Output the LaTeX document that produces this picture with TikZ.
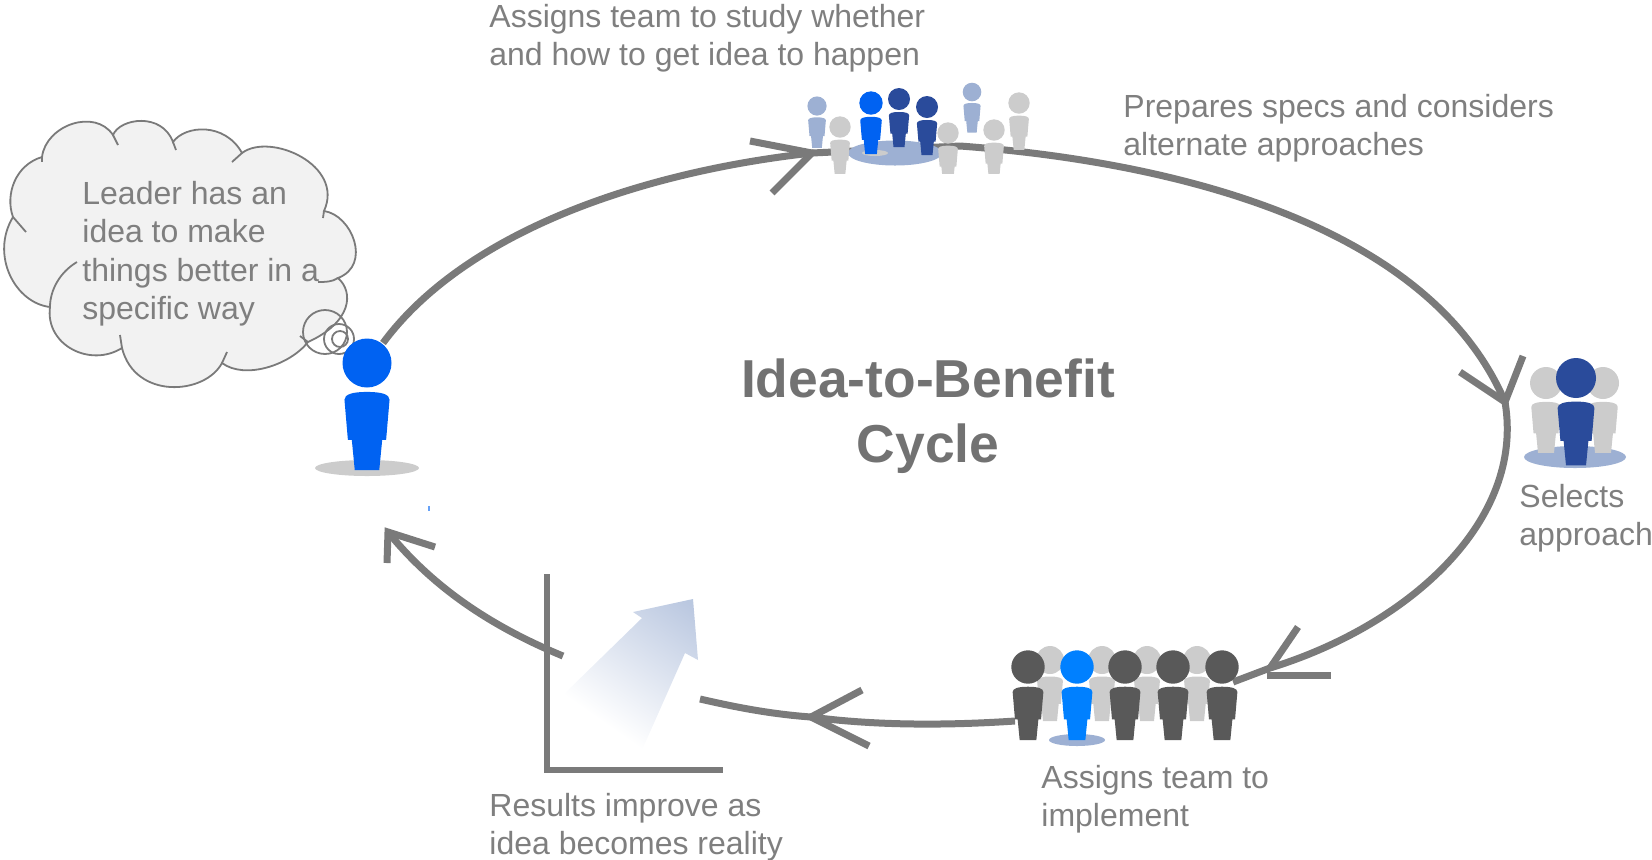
\documentclass[tikz,border=0pt]{standalone}
\usepackage{fontspec}
\setmainfont{Liberation Sans}
\definecolor{linegrey}{HTML}{7A7A7A}
\definecolor{textgrey}{HTML}{7F7F7F}
\definecolor{cloudgrey}{HTML}{F2F2F2}
\definecolor{peoplegrey}{HTML}{CCCCCC}
\definecolor{peopledark}{HTML}{595959}
\definecolor{leaderblue}{HTML}{0062F2}
\definecolor{brightblue}{HTML}{0080FF}
\definecolor{navyblue}{HTML}{2A4B9B}
\definecolor{paleblue}{HTML}{9DB0D3}
\pgfdeclareverticalshading{arrowfade}{100bp}{color(0bp)=(white); color(31bp)=(white); color(82bp)=(paleblue!70); color(100bp)=(paleblue!70)}
\tikzset{
  cycleline/.style={draw=linegrey,line width=3.5pt},
  axisline/.style={draw=linegrey,line width=3pt},
  cloudline/.style={draw=linegrey,line width=0.9pt},
  label/.style={anchor=north west,inner sep=0pt,align=left,text=textgrey,font=\fontsize{16}{19.1}\selectfont},
}
\newcommand{\drawperson}[4]{%
  \begin{scope}[shift={(#1,#2)},x=#3*0.5pt,y=-#3*0.5pt]
    \fill[#4] (0,0) circle (1);
    \fill[#4] (-.92,1.5) .. controls (-.92,1.28) and (-.6,1.18) .. (0,1.18) .. controls (.6,1.18) and (.92,1.28) .. (.92,1.5) -- (.78,3.14) -- (.62,3.14) -- (.5,4.37) -- (-.5,4.37) -- (-.62,3.14) -- (-.78,3.14) -- cycle;
  \end{scope}}
\begin{document}
\begin{tikzpicture}[x=0.5pt,y=-0.5pt]
  \useasboundingbox (0,0) rectangle (1652,859);
  % arrow tips of the cycle
  \coordinate (leaderstart) at (383,343);
  \coordinate (tiptop) at (812,153);
  \coordinate (tipright) at (1505,402);
  \coordinate (tipteam) at (1270,668);
  \coordinate (tipbottom) at (811,717);
  \coordinate (tipleader) at (388,532);
  \coordinate (topstart) at (960,146);
  \coordinate (teamstart) at (1015,721);
  \coordinate (teamend) at (1233,682);
  \coordinate (gapright) at (700,699);
  \coordinate (gapleft) at (563,656);
  % cycle
  \draw [cycleline] (leaderstart) .. controls (465,232) and (640,172) .. (tiptop) -- (topstart);
  \draw [cycleline] (topstart) .. controls (1150,160) and (1425,215) .. (tipright);
  \draw [cycleline] (tipright) .. controls (1525,520) and (1410,625) .. (tipteam) -- (teamend);
  \draw [cycleline] (teamstart) .. controls (940,726) and (870,725) .. (tipbottom);
  \draw [cycleline] (tipbottom) .. controls (770,714) and (735,707) .. (gapright);
  \draw [cycleline] (gapleft) .. controls (495,628) and (435,590) .. (tipleader);
  \draw [cycleline] (750,141) -- (tiptop) -- (772,193);
  \draw [cycleline] (1460,372) -- (tipright) -- (1523,356);
  \draw [cycleline] (1298,627) -- (tipteam);
  \draw [cycleline] (1267,675) -- (1331,675);
  \draw [cycleline] (862,690) -- (tipbottom) -- (869,746);
  \draw [cycleline] (435,547) -- (tipleader) -- (387,563);
  % chart
  \coordinate (axistop) at (547,574);
  \coordinate (axisorigin) at (547,770);
  \coordinate (axisend) at (723,770);
  \draw [axisline] (axistop) -- (axisorigin) -- (axisend);
  \shade [shading=arrowfade,shading angle=-35] (563,695) -- (642,750) -- (685,653) -- (698,660) -- (693,599) -- (633,612) -- (642,618) -- cycle;
  % cloud
  \filldraw [cloudline,fill=cloudgrey] (42,157) .. controls (46,125) and (95,108) .. (113,135)
    .. controls (120,118) and (162,112) .. (173,142)
    .. controls (185,125) and (225,122) .. (242,153)
    .. controls (270,132) and (345,165) .. (324,211)
    .. controls (352,215) and (372,265) .. (338,278)
    .. controls (354,292) and (352,322) .. (308,342)
    .. controls (290,365) and (245,380) .. (222,363)
    .. controls (205,395) and (135,400) .. (122,348)
    .. controls (90,368) and (45,345) .. (50,307)
    .. controls (15,303) and (-10,255) .. (13,217)
    .. controls (5,195) and (15,165) .. (42,157) -- cycle;
  \draw [cloudline] (42,157) -- (42,162);
  \draw [cloudline] (113,135) -- (118,145);
  \draw [cloudline] (173,142) -- (176,150);
  \draw [cloudline] (242,153) -- (232,162);
  \draw [cloudline] (324,211) -- (323,218);
  \draw [cloudline] (338,278) .. controls (332,282) and (325,282) .. (318,282);
  \draw [cloudline] (300,336) -- (308,342);
  \draw [cloudline] (222,363) -- (227,352);
  \draw [cloudline] (122,348) -- (120,335);
  \draw [cloudline] (50,307) .. controls (50,290) and (60,272) .. (77,262);
  \draw [cloudline] (13,217) -- (26,232);
  \draw [cloudline] (325,332) circle (22);
  \draw [cloudline] (339,339) circle (15);
  \draw [cloudline] (340,339) circle (8);
  % leader
  \fill [peoplegrey] (367,468) ellipse (52 and 8);
  \drawperson{367}{363}{24.5}{leaderblue}
  \fill [leaderblue!60] (428,506) rectangle (430,511);
  % study team
  \fill [paleblue] (895,153) ellipse (47 and 12.5);
  \fill [peoplegrey] (875,153) ellipse (13 and 3);
  \drawperson{817}{106}{9.6}{paleblue}
  \drawperson{871}{103}{11.7}{leaderblue}
  \drawperson{899}{99}{11}{navyblue}
  \drawperson{927}{107}{11}{navyblue}
  \drawperson{972}{92}{9.3}{paleblue}
  \begin{scope}
    \clip (800,60) rectangle (1040,173);
    \drawperson{840}{127}{10.7}{peoplegrey}
    \drawperson{948}{133}{10.7}{peoplegrey}
    \drawperson{994}{130}{10.7}{peoplegrey}
    \drawperson{1019}{103}{10.7}{peoplegrey}
  \end{scope}
  % selecting group
  \fill [paleblue] (1575,457) ellipse (51 and 11);
  \drawperson{1546}{383}{16}{peoplegrey}
  \drawperson{1603}{383}{16}{peoplegrey}
  \drawperson{1576}{378}{20}{navyblue}
  % implementing team
  \fill [paleblue] (1077,740) ellipse (28 and 6);
  \foreach \x in {1050,1102,1147,1197} {
    \drawperson{\x}{660}{14}{peoplegrey}
  }
  \foreach \x in {1028,1125,1173,1222} {
    \drawperson{\x}{667}{16.7}{peopledark}
  }
  \drawperson{1077}{667}{16.7}{brightblue}
  % texts
  \node [label] (studytext) at (489,4) {Assigns team to study whether\\and how to get idea to happen};
  \node [label] (specstext) at (1123,94) {Prepares specs and considers\\alternate approaches};
  \node [label] (leadertext) at (82,181) {Leader has an\\idea to make\\things better in a\\specific way};
  \node [label] (selecttext) at (1519,484) {Selects\\approach};
  \node [label] (teamtext) at (1041,765) {Assigns team to\\implement};
  \node [label] (resulttext) at (489,793) {Results improve as\\idea becomes reality};
  \node [align=center,inner sep=0pt,text=textgrey!90!black,font=\fontsize{26.7}{32.5}\selectfont\bfseries] (title) at (928,416) {Idea-to-Benefit\\Cycle};
\end{tikzpicture}
\end{document}
